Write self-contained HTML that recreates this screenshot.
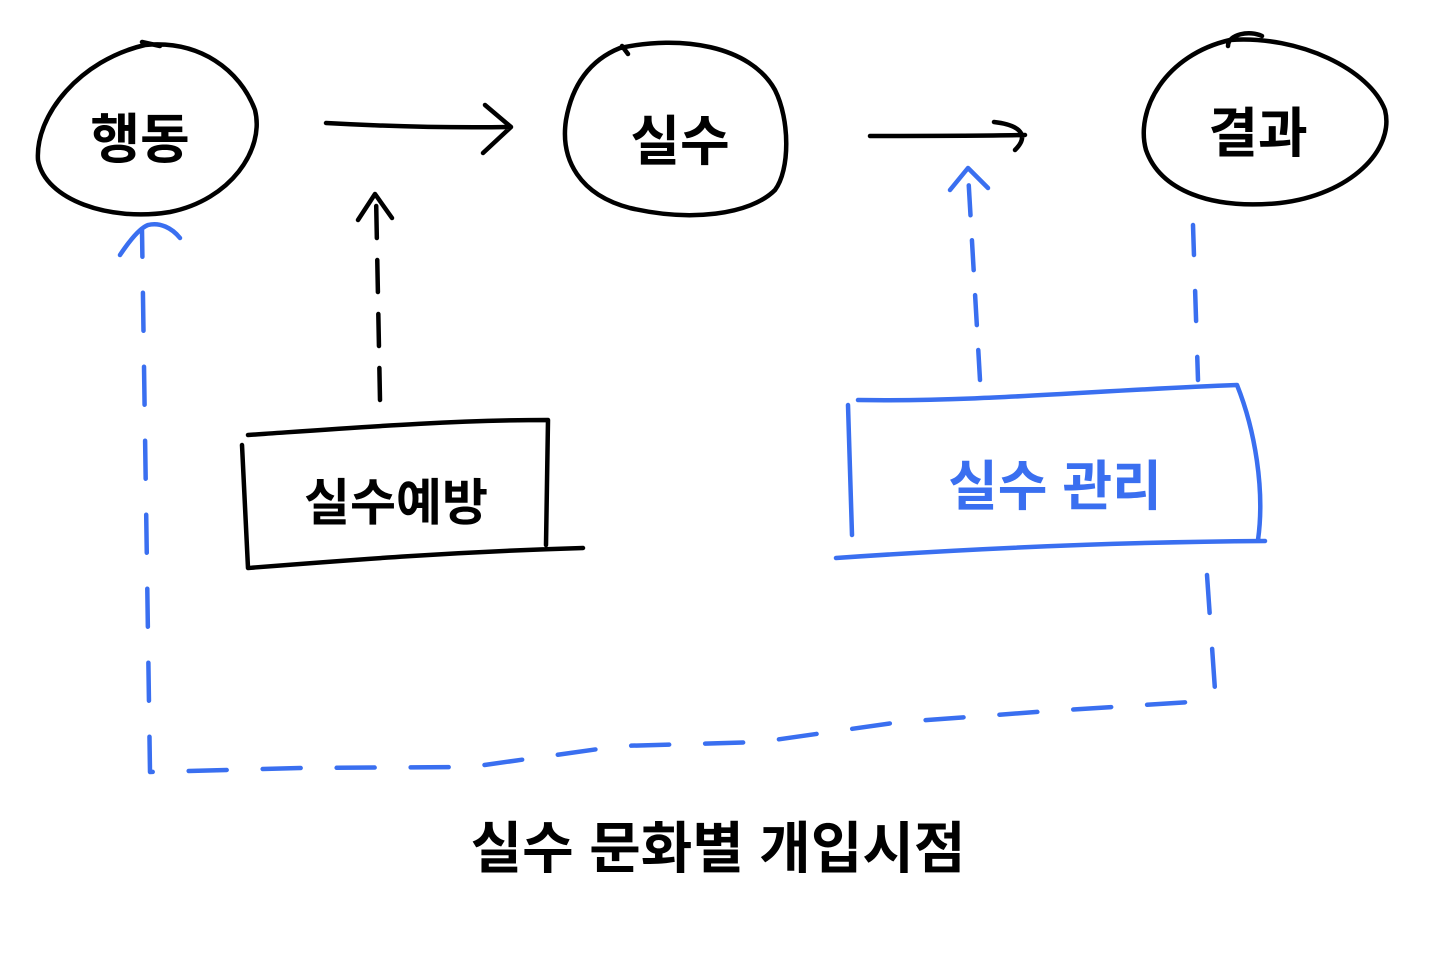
<!DOCTYPE html>
<html><head><meta charset="utf-8"><style>
html,body{margin:0;padding:0;background:#fff;}
svg{display:block;}
text{font-family:"Liberation Sans","Noto Sans CJK KR","NanumGothic",sans-serif;font-weight:700;}
</style></head><body>
<svg width="1432" height="964" viewBox="0 0 1432 964" xmlns="http://www.w3.org/2000/svg">
<g fill="none" stroke="#000" stroke-width="4.5" stroke-linecap="round" stroke-linejoin="round">
<path d="M145,45 C200,40 240,70 255,110 C265,150 230,200 170,212 C110,222 45,200 38,160 C35,115 80,60 145,45 M142,42 L160,46"/>
<path d="M620,48 C680,35 750,45 775,90 C790,120 790,170 775,190 C750,215 690,222 630,208 C580,195 560,160 566,120 C572,85 590,60 620,48 M622,46 L628,54"/>
<path d="M1230,40 C1300,35 1370,70 1385,110 C1395,150 1350,195 1280,203 C1210,210 1160,190 1146,150 C1135,110 1165,55 1230,40 M1228,46 C1228,34 1250,30 1262,36"/>
<path d="M326,123 C380,126 450,128 510,127 M485,105 L511,127 L483,153"/>
<path d="M870,136 C920,136 980,136 1025,135 M994,122 C1020,125 1030,135 1015,150"/>
<path d="M380,400 L376,195" stroke-dasharray="32,22"/>
<path d="M358,220 L375,194 L392,218"/>
<path d="M248,435 C350,428 450,420 548,420 L546,545 M242,445 L248,568 C350,560 450,552 583,548"/>
</g>
<g fill="none" stroke="#3a6ff0" stroke-width="4.5" stroke-linecap="round" stroke-linejoin="round">
<path d="M858,400 C980,402 1100,390 1237,385 C1255,430 1265,490 1258,540 M848,405 L852,535 M836,558 C980,548 1120,542 1265,541"/>
<path d="M980,380 L968,172" stroke-dasharray="30,25"/>
<path d="M950,190 L968,168 L988,188"/>
<path d="M1193,225 L1198,380" stroke-dasharray="30,36"/>
<path d="M1207,575 L1215,690 L1190,702 L1050,711 L900,722 L760,742 L620,746 L470,767 L300,768 L150,772 L142,230" stroke-dasharray="38,36"/>
<path d="M120,255 C130,240 140,228 148,225 C160,222 172,228 180,238"/>
</g>
<text x="140" y="158" font-size="54" text-anchor="middle" fill="#000">행동</text>
<text x="680" y="160" font-size="54" text-anchor="middle" fill="#000">실수</text>
<text x="1258" y="152" font-size="54" text-anchor="middle" fill="#000">결과</text>
<text x="396" y="520" font-size="50" text-anchor="middle" fill="#000">실수예방</text>
<text x="1055" y="505" font-size="54" text-anchor="middle" fill="#3a6ff0">실수 관리</text>
<text x="718" y="868" font-size="56" text-anchor="middle" fill="#000">실수 문화별  개입시점</text>
</svg>
</body></html>
